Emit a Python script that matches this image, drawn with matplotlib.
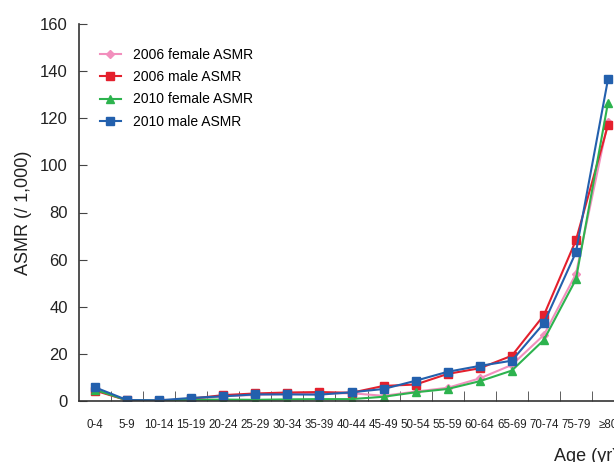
import numpy as np
import matplotlib.pyplot as plt

plt.rcParams['font.family'] = ['Liberation Sans', 'DejaVu Sans']

ages = ['0-4', '5-9', '10-14', '15-19', '20-24', '25-29', '30-34', '35-39',
        '40-44', '45-49', '50-54', '55-59', '60-64', '65-69', '70-74',
        '75-79', '\u226580']

f2006 = [4.8, 0.3, 0.2, 0.8, 2.0, 2.6, 3.0, 3.2, 3.3, 2.2, 4.0, 5.6, 9.6, 15.3, 28.0, 53.9, 118.6]
m2006 = [4.4, 0.3, -0.2, 1.0, 2.5, 3.2, 3.6, 3.8, 3.5, 6.4, 7.0, 11.5, 13.9, 19.2, 36.4, 68.2, 117.1]
f2010 = [4.8, 0.3, 0.2, 0.5, 0.6, 0.5, 0.7, 0.8, 0.8, 1.8, 3.7, 5.1, 8.4, 12.9, 25.9, 51.6, 126.6]
m2010 = [5.8, 0.4, 0.3, 1.3, 2.0, 2.8, 2.8, 2.7, 3.7, 5.1, 8.6, 12.4, 14.9, 17.1, 33.0, 63.1, 136.5]

x = np.arange(len(ages))

fig = plt.figure(figsize=(6.14, 4.62), dpi=100)
ax = fig.add_axes([79/614, 61/462, 545/614, 377/462])

ax.plot(x, f2006, '-D', color='#f28fbd', ms=4.5, lw=1.5, label='2006 female ASMR')
ax.plot(x, m2006, '-s', color='#e4202d', ms=5.5, lw=1.5, label='2006 male ASMR')
ax.plot(x, f2010, '-^', color='#2db34e', ms=6, lw=1.5, label='2010 female ASMR')
ax.plot(x, m2010, '-s', color='#2360ad', ms=5.5, lw=1.5, label='2010 male ASMR')

ax.set_xlim(-0.5, len(ages) - 0.5)
ax.set_ylim(0, 160)
ax.set_yticks(np.arange(0, 161, 20))
ax.set_xticks(x)
ax.set_xticklabels(ages, fontsize=8.3, color='#222222')
ax.set_xticks(x[:-1] + 0.5, minor=True)
ax.tick_params(axis='x', which='major', length=0, pad=13)
ax.tick_params(axis='x', which='minor', direction='in', length=7, color='#444444')
ax.tick_params(axis='y', direction='in', length=6, labelsize=12, color='#444444',
               labelcolor='#222222', pad=8)

for s in ['top', 'right']:
    ax.spines[s].set_visible(False)
for s in ['left', 'bottom']:
    ax.spines[s].set_color('#333333')
    ax.spines[s].set_linewidth(1.2)

ax.set_ylabel('ASMR (/ 1,000)', fontsize=13, color='#222222', labelpad=6)
ax.set_xlabel('Age (yr)', fontsize=13, color='#222222')
ax.xaxis.set_label_coords(0.93, -0.125)

ax.legend(loc='upper left', bbox_to_anchor=(0.015, 0.97), frameon=False,
          fontsize=10, handlelength=1.5, labelspacing=0.6, handletextpad=0.9)

fig.savefig('out.png', dpi=100)
